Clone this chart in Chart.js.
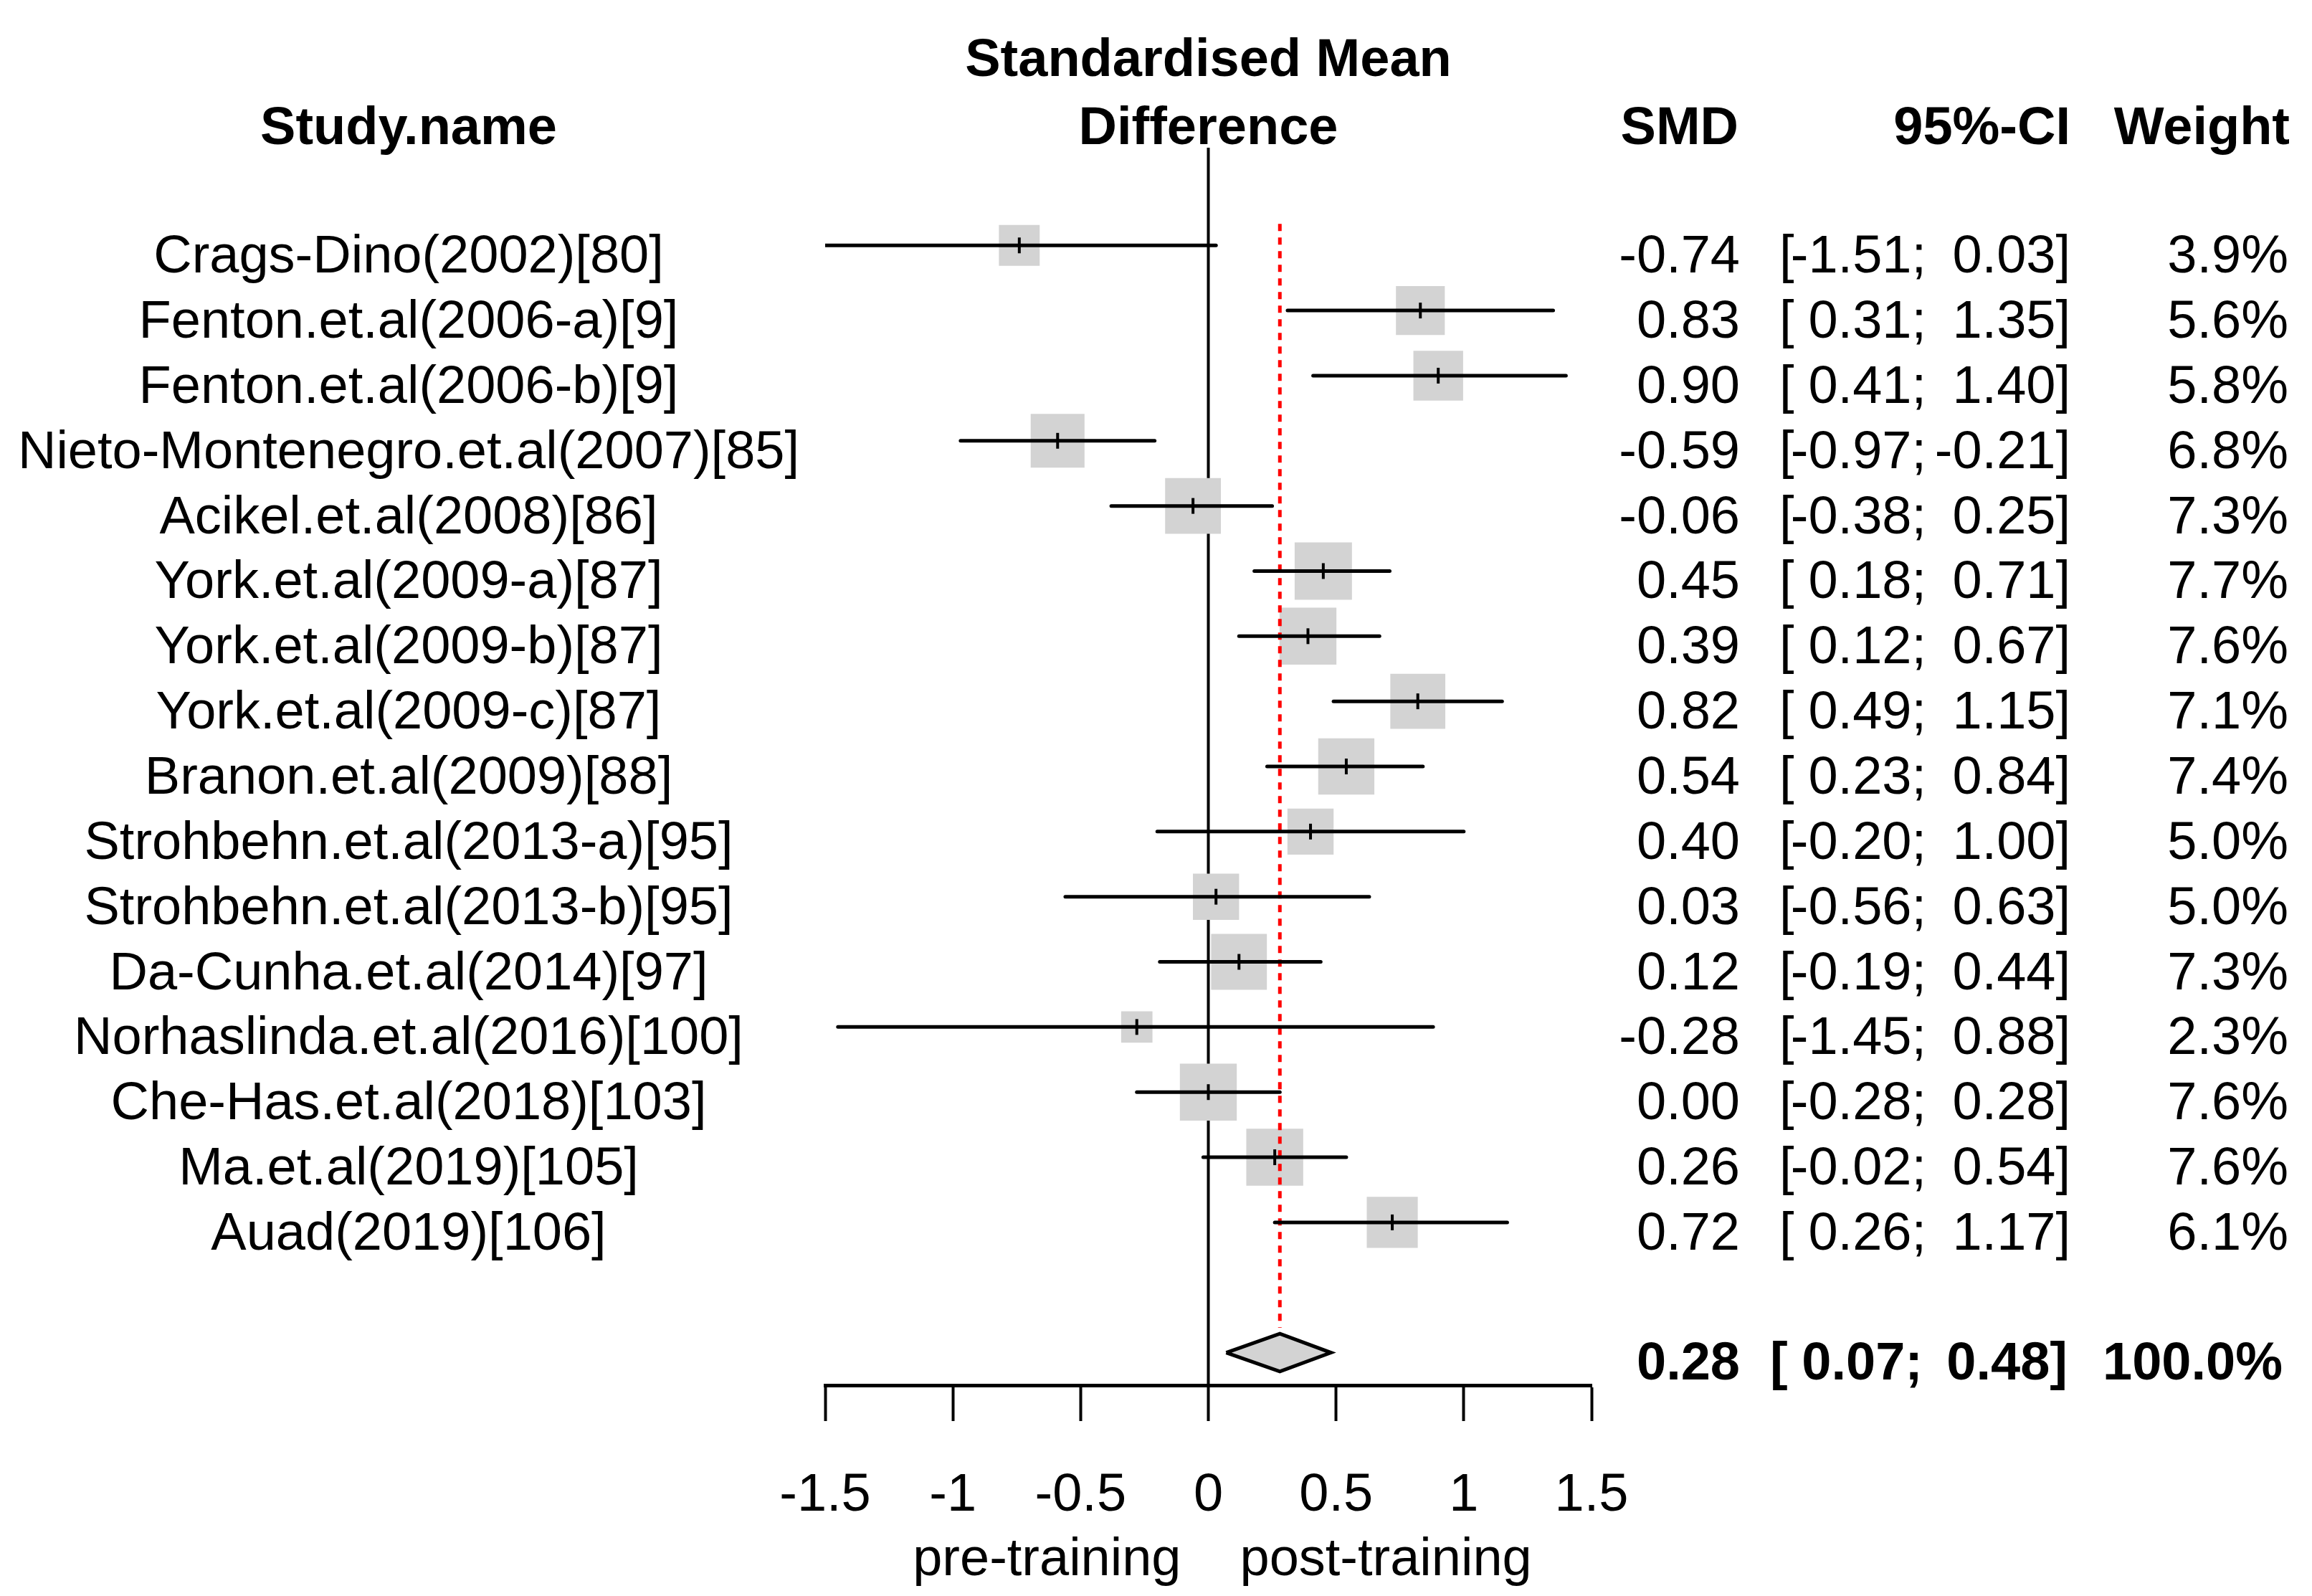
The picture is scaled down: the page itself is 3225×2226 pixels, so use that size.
<!DOCTYPE html>
<html>
<head>
<meta charset="utf-8">
<style>
  html, body { margin: 0; padding: 0; background: #fff; }
  #wrap { width: 3225px; height: 2226px; }
</style>
<script src="https://cdn.jsdelivr.net/npm/chart.js@4.4.1/dist/chart.umd.min.js"></script>
</head>
<body>
<div id="wrap"><canvas id="forest" width="3225" height="2226"></canvas></div>
<script>
// study rows, top to bottom
var studyNames = [
    "Crags-Dino(2002)[80]",
    "Fenton.et.al(2006-a)[9]",
    "Fenton.et.al(2006-b)[9]",
    "Nieto-Montenegro.et.al(2007)[85]",
    "Acikel.et.al(2008)[86]",
    "York.et.al(2009-a)[87]",
    "York.et.al(2009-b)[87]",
    "York.et.al(2009-c)[87]",
    "Branon.et.al(2009)[88]",
    "Strohbehn.et.al(2013-a)[95]",
    "Strohbehn.et.al(2013-b)[95]",
    "Da-Cunha.et.al(2014)[97]",
    "Norhaslinda.et.al(2016)[100]",
    "Che-Has.et.al(2018)[103]",
    "Ma.et.al(2019)[105]",
    "Auad(2019)[106]"
];
var smd = [-0.74, 0.83, 0.90, -0.59, -0.06, 0.45, 0.39, 0.82, 0.54, 0.40, 0.03, 0.12, -0.28, 0.00, 0.26, 0.72];
var ciLower = [-1.51, 0.31, 0.41, -0.97, -0.38, 0.18, 0.12, 0.49, 0.23, -0.20, -0.56, -0.19, -1.45, -0.28, -0.02, 0.26];
var ciUpper = [0.03, 1.35, 1.40, -0.21, 0.25, 0.71, 0.67, 1.15, 0.84, 1.00, 0.63, 0.44, 0.88, 0.28, 0.54, 1.17];
var weights = [3.9, 5.6, 5.8, 6.8, 7.3, 7.7, 7.6, 7.1, 7.4, 5.0, 5.0, 7.3, 2.3, 7.6, 7.6, 6.1];

// pooled (random effects) estimate
var pooledSmd = 0.28;
var pooledLower = 0.07;
var pooledUpper = 0.48;
var pooledWeight = 100.0;

var tickValues = [-1.5, -1, -0.5, 0, 0.5, 1, 1.5];
var tickLabels = ["-1.5", "-1", "-0.5", "0", "0.5", "1", "1.5"];

var FONT = '"Liberation Sans", Arial, sans-serif';
var FS = 74;
var summaryRow = 17;

function fmt(v) { return v.toFixed(2); }

// datasets
var datasets = [];

// little black mark at each estimate (on top)
datasets.push({
    type: "line",
    order: 0,
    showLine: false,
    data: smd.map(function (v, i) { return { x: v, y: i }; }),
    pointStyle: "line",
    pointRotation: 90,
    pointRadius: 11,
    pointBorderWidth: 4,
    pointBorderColor: "#000",
    pointBackgroundColor: "#000"
});

// confidence interval lines
for (var i = 0; i < studyNames.length; i++) {
    datasets.push({
        type: "line",
        order: 1,
        data: [{ x: ciLower[i], y: i }, { x: ciUpper[i], y: i }],
        borderColor: "#000",
        borderWidth: 5,
        borderCapStyle: "round",
        pointRadius: 0
    });
}

// pooled diamond
datasets.push({
    type: "line",
    order: 2,
    data: [
        { x: pooledLower, y: summaryRow },
        { x: pooledSmd, y: summaryRow - 0.29 },
        { x: pooledUpper, y: summaryRow },
        { x: pooledSmd, y: summaryRow + 0.29 },
        { x: pooledLower, y: summaryRow }
    ],
    borderColor: "#000",
    borderWidth: 5,
    borderJoinStyle: "miter",
    backgroundColor: "#d3d3d3",
    fill: "shape",
    pointRadius: 0
});

// dotted line at pooled estimate
datasets.push({
    type: "line",
    order: 3,
    data: [{ x: pooledSmd, y: -0.33 }, { x: pooledSmd, y: 16.62 }],
    borderColor: "#ff0000",
    borderWidth: 5,
    borderDash: [10, 9],
    pointRadius: 0
});

// weight squares (area ~ weight)
datasets.push({
    type: "line",
    order: 4,
    showLine: false,
    data: smd.map(function (v, i) { return { x: v, y: i }; }),
    pointStyle: "rect",
    pointRadius: weights.map(function (w) { return 28.8 * Math.sqrt(w) / Math.SQRT2; }),
    pointBorderWidth: 0,
    pointBackgroundColor: "#d3d3d3",
    pointBorderColor: "#d3d3d3"
});

// line of no effect
datasets.push({
    type: "line",
    order: 5,
    data: [{ x: 0, y: -1.5 }, { x: 0, y: 17.5 }],
    borderColor: "#000",
    borderWidth: 4,
    pointRadius: 0
});

var textColumns = {
    id: "textColumns",
    afterDraw: function (chart) {
        var ctx = chart.ctx;
        var ys = chart.scales.y;
        var xs = chart.scales.x;
        var x0 = xs.getPixelForValue(0);
        ctx.save();
        ctx.fillStyle = "#000";
        ctx.textBaseline = "alphabetic";

        // headers
        ctx.font = "bold " + FS + "px " + FONT;
        ctx.textAlign = "center";
        ctx.fillText("Standardised Mean", x0, 106);
        ctx.fillText("Difference", x0, 201);
        ctx.fillText("Study.name", 570, 201);
        ctx.textAlign = "right";
        ctx.fillText("SMD", 2425, 201);
        ctx.fillText("95%-CI", 2888, 201);
        ctx.fillText("Weight", 3194, 201);

        // study rows
        ctx.font = FS + "px " + FONT;
        for (var i = 0; i < studyNames.length; i++) {
            var by = ys.getPixelForValue(i) + 38;
            ctx.textAlign = "center";
            ctx.fillText(studyNames[i], 570, by);
            ctx.textAlign = "right";
            ctx.fillText(fmt(smd[i]), 2427, by);
            ctx.fillText(fmt(ciLower[i]) + ";", 2687, by);
            ctx.fillText(fmt(ciUpper[i]) + "]", 2888, by);
            ctx.fillText(weights[i].toFixed(1) + "%", 3192, by);
            ctx.textAlign = "left";
            ctx.fillText("[", 2482, by);
        }

        // pooled row
        var sy = ys.getPixelForValue(summaryRow) + 37;
        ctx.font = "bold " + FS + "px " + FONT;
        ctx.textAlign = "right";
        ctx.fillText(fmt(pooledSmd), 2427, sy);
        ctx.fillText(fmt(pooledLower) + ";", 2682, sy);
        ctx.fillText(fmt(pooledUpper) + "]", 2884, sy);
        ctx.fillText(pooledWeight.toFixed(1) + "%", 3184, sy);
        ctx.textAlign = "left";
        ctx.fillText("[", 2469, sy);

        // direction labels under the axis
        ctx.font = FS + "px " + FONT;
        ctx.textAlign = "right";
        ctx.fillText("pre-training", x0 - 38, 2197);
        ctx.textAlign = "left";
        ctx.fillText("post-training", x0 + 44, 2197);
        ctx.restore();
    }
};

new Chart(document.getElementById("forest").getContext("2d"), {
    type: "line",
    data: { datasets: datasets },
    options: {
        responsive: false,
        devicePixelRatio: 1,
        animation: false,
        events: [],
        layout: { padding: { left: 1151, right: 1005, top: 206, bottom: 0 } },
        plugins: { legend: { display: false }, tooltip: { enabled: false } },
        elements: { line: { tension: 0 } },
        scales: {
            x: {
                type: "linear",
                position: "bottom",
                min: -1.5,
                max: 1.5,
                afterBuildTicks: function (scale) {
                    scale.ticks = tickValues.map(function (v) { return { value: v }; });
                },
                afterFit: function (scale) { scale.height = 294; },
                grid: {
                    drawOnChartArea: false,
                    drawTicks: true,
                    tickLength: 50,
                    tickWidth: 4,
                    tickColor: "#000"
                },
                border: { display: true, color: "#000", width: 5 },
                ticks: {
                    autoSkip: false,
                    maxRotation: 0,
                    padding: 60,
                    color: "#000",
                    font: { family: FONT, size: FS },
                    callback: function (v, idx) { return tickLabels[idx]; }
                }
            },
            y: {
                type: "linear",
                display: false,
                reverse: true,
                min: -1.5,
                max: 17.5
            }
        }
    },
    plugins: [textColumns]
});
</script>
</body>
</html>
